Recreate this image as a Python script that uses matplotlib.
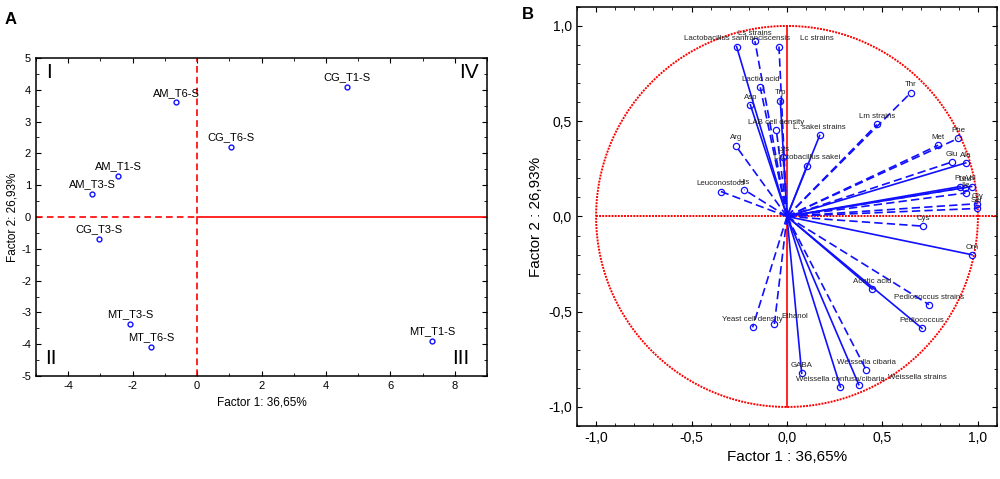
import numpy as np
import matplotlib
matplotlib.use('Agg')
import matplotlib.pyplot as plt
from matplotlib.ticker import MultipleLocator, FuncFormatter

plt.rcParams['font.family'] = ['Liberation Sans', 'DejaVu Sans']
plt.rcParams['axes.unicode_minus'] = False

# panel A: sample scores
samples = ['AM_T6-S', 'CG_T1-S', 'CG_T6-S', 'AM_T1-S', 'AM_T3-S',
           'CG_T3-S', 'MT_T3-S', 'MT_T6-S', 'MT_T1-S']
score_f1 = [-0.65, 4.65, 1.05, -2.45, -3.25, -3.05, -2.07, -1.42, 7.3]
score_f2 = [3.6, 4.1, 2.2, 1.3, 0.72, -0.68, -3.35, -4.08, -3.9]

# panel B: variable loadings
variables = ['Lactobacillus sanfranciscensis', 'Ls strains', 'Lc strains',
             'Lactic acid', 'Trp', 'Asp', 'LAB cell density', 'L. sakei strains',
             'Lm strains', 'Thr', 'Arg', 'Lys', 'Lactobacillus sakei',
             'Leuconostocs', 'His', 'Phe', 'Met', 'Glu', 'Ala', 'Pro', 'Leu',
             'Val', 'Ile', 'Gly', 'Ser', 'Cys', 'Orn', 'Acetic acid',
             'Pediococcus strains', 'Pediococcus', 'Yeast cell density',
             'Ethanol', 'GABA', 'Weissella cibaria', 'Weissella confusa/cibaria',
             'Weissella strains']
load_f1 = [-0.264, -0.168, -0.042, -0.14, -0.035, -0.192, -0.056, 0.171,
           0.471, 0.649, -0.269, -0.02, 0.105, -0.346, -0.224, 0.897, 0.792,
           0.864, 0.936, 0.908, 0.932, 0.967, 0.935, 0.996, 0.996, 0.714,
           0.969, 0.446, 0.744, 0.707, -0.18, -0.066, 0.077, 0.415, 0.28, 0.376]
load_f2 = [0.892, 0.92, 0.892, 0.678, 0.608, 0.586, 0.455, 0.425, 0.483,
           0.65, 0.372, 0.31, 0.267, 0.131, 0.14, 0.41, 0.374, 0.286, 0.281,
           0.157, 0.152, 0.157, 0.123, 0.067, 0.042, -0.051, -0.201, -0.381,
           -0.463, -0.587, -0.582, -0.565, -0.823, -0.806, -0.895, -0.883]

# styling
dashed = {'Ls strains', 'Lc strains', 'Lactic acid', 'LAB cell density',
          'Lm strains', 'Thr', 'Arg', 'Lys', 'Leuconostocs', 'His', 'Phe',
          'Met', 'Glu', 'Leu', 'Ile', 'Gly', 'Ser', 'Cys',
          'Pediococcus strains', 'Yeast cell density', 'Ethanol',
          'Weissella cibaria'}
label_dx = {'Lc strains': 27, 'Ethanol': 15, 'Weissella strains': 42}

blue = '#1010ff'
red = '#ff0000'


def comma1(v, pos):
    return ('%.1f' % v).replace('.', ',')


def frame(ax):
    ax.tick_params(which='both', direction='in', top=True, right=True)
    for s in ax.spines.values():
        s.set_linewidth(1.1)


fig = plt.figure(figsize=(10.0, 4.79), dpi=100)

# ---- panel A
ax1 = fig.add_axes([0.036, 0.215, 0.451, 0.664])
ax1.set_xlim(-5, 9)
ax1.set_ylim(-5, 5)
ax1.plot([-5, 0], [0, 0], color=red, lw=1.2, ls=(0, (4, 2.5)))
ax1.plot([0, 9], [0, 0], color=red, lw=1.2)
ax1.plot([0, 0], [-5, 5], color=red, lw=1.2, ls=(0, (4, 2.5)))
ax1.plot(score_f1, score_f2, 'o', ms=3.5, mfc='white', mec=blue, mew=1.0)
for name, x, y in zip(samples, score_f1, score_f2):
    ax1.annotate(name, (x, y), xytext=(0, 3.5), textcoords='offset points',
                 ha='center', va='bottom', fontsize=8)
for txt, x, y in [('I', -4.6, 4.55), ('IV', 8.45, 4.55),
                  ('II', -4.55, -4.45), ('III', 8.2, -4.45)]:
    ax1.text(x, y, txt, fontsize=15, ha='center', va='center')
ax1.xaxis.set_major_locator(MultipleLocator(2))
ax1.xaxis.set_minor_locator(MultipleLocator(1))
ax1.yaxis.set_major_locator(MultipleLocator(1))
ax1.yaxis.set_minor_locator(MultipleLocator(0.5))
ax1.tick_params(labelsize=8)
frame(ax1)
ax1.set_xlabel('Factor 1: 36,65%', fontsize=8.5)
ax1.set_ylabel('Factor 2: 26,93%', fontsize=8.5, labelpad=2)
fig.text(0.005, 0.975, 'A', fontsize=12, fontweight='bold', va='top')

# ---- panel B
ax2 = fig.add_axes([0.577, 0.1106, 0.42, 0.875])
ax2.set_xlim(-1.1, 1.1)
ax2.set_ylim(-1.1, 1.1)
t = np.linspace(0, 2 * np.pi, 400)
ax2.plot(np.cos(t), np.sin(t), color=red, lw=1.4, ls=(0, (1, 0.6)))
ax2.plot([-1, 1.1], [0, 0], color=red, lw=1.4, ls=(0, (1, 0.6)))
ax2.plot([0, 0], [-1, 1], color=red, lw=1.2)
for name, x, y in zip(variables, load_f1, load_f2):
    ls = (0, (5, 2.5)) if name in dashed else '-'
    ax2.plot([0, x], [0, y], color=blue, lw=1.2, ls=ls)
    ax2.plot(x, y, 'o', ms=4.5, mfc='none', mec=blue, mew=0.9)
    ax2.annotate(name, (x, y), xytext=(label_dx.get(name, 0), 3),
                 textcoords='offset points', ha='center', va='bottom',
                 fontsize=5.7, color='#222222')
ax2.xaxis.set_major_locator(MultipleLocator(0.5))
ax2.xaxis.set_minor_locator(MultipleLocator(0.1))
ax2.yaxis.set_major_locator(MultipleLocator(0.5))
ax2.yaxis.set_minor_locator(MultipleLocator(0.1))
ax2.xaxis.set_major_formatter(FuncFormatter(comma1))
ax2.yaxis.set_major_formatter(FuncFormatter(comma1))
ax2.tick_params(labelsize=10)
frame(ax2)
ax2.set_xlabel('Factor 1 : 36,65%', fontsize=11)
ax2.set_ylabel('Factor 2 : 26,93%', fontsize=11)
fig.text(0.522, 0.985, 'B', fontsize=12, fontweight='bold', va='top')

plt.savefig('out.png', dpi=100)
